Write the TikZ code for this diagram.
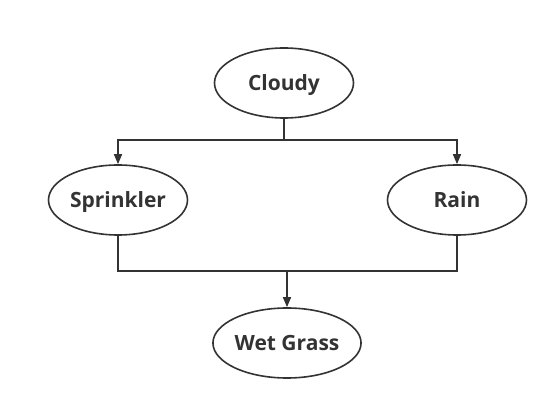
\documentclass[tikz,border=0pt]{standalone}
\usepackage{fontspec}
\setmainfont{Open Sans}
\usetikzlibrary{shapes.geometric,arrows.meta}
\definecolor{ink}{HTML}{333333}
\begin{document}
\begin{tikzpicture}[x=1pt,y=-1pt,
  var/.style={ellipse,draw=ink,line width=1.6pt,minimum width=139pt,minimum height=70pt,
    inner sep=0pt,text height=15pt,text depth=0pt,text=ink,
    font=\fontsize{21}{25}\selectfont\bfseries},
  link/.style={draw=ink,line width=1.6pt},
  tip/.style={-{Triangle[length=10pt,width=8pt]}}]
\useasboundingbox (0,0) rectangle (558,411);
\node[var] (cloudy) at (284,83) {Cloudy};
\node[var] (sprinkler) at (118,200) {Sprinkler};
\node[var] (rain) at (457,200) {Rain};
\node[var,minimum width=142pt] (wet) at (287,343) {Wet Grass};
\coordinate (split) at (284,140);
\coordinate (join) at (287,271);
\draw[link] (cloudy.south) -- (split);
\draw[link,tip] (split) -| (sprinkler.north);
\draw[link,tip] (split) -| (rain.north);
\draw[link] (sprinkler.south) |- (join);
\draw[link] (rain.south) |- (join);
\draw[link,tip] (join) -- (wet.north);
\end{tikzpicture}
\end{document}
